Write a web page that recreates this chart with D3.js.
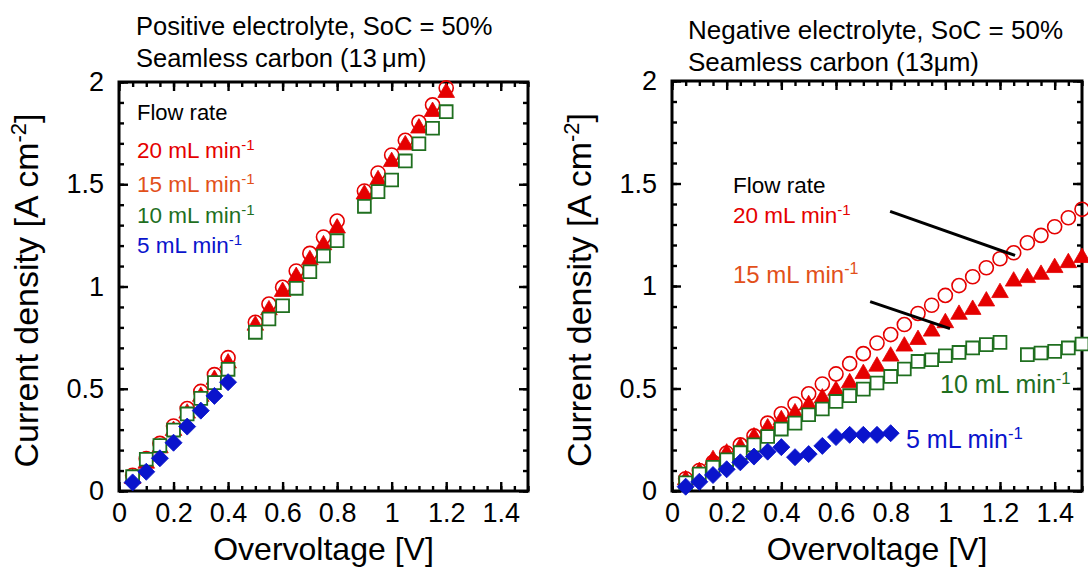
<!DOCTYPE html>
<html>
<head>
<meta charset="utf-8">
<script src="https://cdn.jsdelivr.net/npm/d3@7"></script>
<style>
  body { margin: 0; background: #fff; }
  text { font-family: "Liberation Sans", Arial, sans-serif; }
</style>
</head>
<body>
<script>
// ---------------------------------------------------------------------------
// Data
// ---------------------------------------------------------------------------
const xTicksMajor = [0, 0.2, 0.4, 0.6, 0.8, 1, 1.2, 1.4];
const yTicksMajor = [0, 0.5, 1, 1.5, 2];

// positive electrolyte (left panel)
const posX = [0.05, 0.1, 0.15, 0.2, 0.25, 0.3, 0.35, 0.4,
              0.5, 0.55, 0.6, 0.65, 0.7, 0.75, 0.8,
              0.9, 0.95, 1.0, 1.05, 1.1, 1.15, 1.2];
const pos20 = [0.077, 0.158, 0.233, 0.318, 0.403, 0.487, 0.569, 0.652,
               0.825, 0.914, 0.996, 1.076, 1.162, 1.242, 1.320,
               1.467, 1.555, 1.643, 1.715, 1.803, 1.888, 1.971];
const pos15 = [0.06, 0.135, 0.21, 0.295, 0.38, 0.462, 0.545, 0.625,
               0.81, 0.885, 0.975, 1.048, 1.13, 1.203, 1.285,
               1.451, 1.521, 1.610, 1.692, 1.774, 1.855, 1.948];
const pos10 = [0.07, 0.155, 0.222, 0.298, 0.377, 0.453, 0.53, 0.595,
               0.776, 0.841, 0.906, 0.991, 1.072, 1.149, 1.224,
               1.392, 1.464, 1.521, 1.614, 1.698, 1.774, 1.855];
const pos5X = [0.05, 0.1, 0.15, 0.2, 0.25, 0.3, 0.35, 0.4];
const pos5 = [0.042, 0.094, 0.16, 0.236, 0.315, 0.393, 0.465, 0.532];

// negative electrolyte (right panel)
const negX = [0.05, 0.1, 0.15, 0.2, 0.25, 0.3, 0.35, 0.4, 0.45, 0.5,
              0.55, 0.6, 0.65, 0.7, 0.75, 0.8, 0.85, 0.9, 0.95, 1.0,
              1.05, 1.1, 1.15, 1.2, 1.25, 1.3, 1.35, 1.4, 1.45, 1.5];
const neg20 = [0.06, 0.1, 0.14, 0.185, 0.225, 0.269, 0.331, 0.377, 0.424, 0.474,
               0.522, 0.571, 0.621, 0.67, 0.722, 0.763, 0.812, 0.866, 0.906, 0.954,
               1.002, 1.045, 1.089, 1.133, 1.162, 1.211, 1.247, 1.289, 1.333, 1.374];
const neg15 = [0.054, 0.094, 0.152, 0.184, 0.214, 0.263, 0.307, 0.347, 0.38, 0.42,
               0.453, 0.49, 0.527, 0.572, 0.608, 0.657, 0.706, 0.738, 0.779, 0.82,
               0.861, 0.885, 0.926, 0.967, 1.023, 1.04, 1.056, 1.089, 1.113, 1.138];
const neg10 = [0.04, 0.083, 0.116, 0.152, 0.187, 0.225, 0.266, 0.302, 0.331, 0.372,
               0.4, 0.437, 0.465, 0.497, 0.527, 0.559, 0.595, 0.632, 0.64, 0.66,
               0.676, 0.698, 0.714, 0.725, null, 0.665, 0.673, 0.681, 0.698, 0.717];
const neg5X = [0.05, 0.1, 0.15, 0.2, 0.25, 0.3, 0.35, 0.4,
               0.45, 0.5, 0.55, 0.6, 0.65, 0.7, 0.75, 0.8];
const neg5 = [0.021, 0.045, 0.078, 0.106, 0.14, 0.168, 0.192, 0.214,
              0.165, 0.18, 0.22, 0.263, 0.274, 0.274, 0.274, 0.282];

// colours
const cRed = "#e50000";
const cOrange = "#e2501a";
const cGreen = "#1f6f1f";
const cBlue = "#0a14cc";

// ---------------------------------------------------------------------------
// Canvas
// ---------------------------------------------------------------------------
const svg = d3.select("body").append("svg")
    .attr("width", 1088)
    .attr("height", 567);

const zip = (xs, ys) => xs.map((x, i) => ({ x: x, y: ys[i] })).filter(d => d.y !== null);

function drawPanel(cfg) {
    const x = d3.scaleLinear().domain([0, 1.5]).range([cfg.left, cfg.right]);
    const y = d3.scaleLinear().domain([0, 2]).range([cfg.bottom, cfg.top]);
    const g = svg.append("g");

    const xMinor = d3.range(0, 31).map(i => i / 20);
    const yMinor = d3.range(0, 21).map(i => i / 10);

    // minor ticks (all four sides, pointing inward)
    const minorAxes = [
        [d3.axisBottom(x).tickValues(xMinor), `translate(0,${cfg.bottom})`],
        [d3.axisTop(x).tickValues(xMinor), `translate(0,${cfg.top})`],
        [d3.axisLeft(y).tickValues(yMinor), `translate(${cfg.left},0)`],
        [d3.axisRight(y).tickValues(yMinor), `translate(${cfg.right},0)`]
    ];
    minorAxes.forEach(([ax, tr]) => {
        g.append("g").attr("transform", tr)
            .call(ax.tickSize(-5).tickFormat(""))
            .call(a => a.select(".domain").remove())
            .call(a => a.selectAll("line").attr("stroke", "#000").attr("stroke-width", 2.4));
    });

    // major ticks with labels
    g.append("g").attr("transform", `translate(0,${cfg.bottom})`)
        .call(d3.axisBottom(x).tickValues(xTicksMajor).tickSize(-9).tickPadding(12).tickFormat(d => d))
        .call(a => a.select(".domain").remove())
        .call(a => a.selectAll("line").attr("stroke", "#000").attr("stroke-width", 2.4))
        .call(a => a.selectAll("text").attr("fill", "#000").style("font-size", "27px")
            .style("font-family", "'Liberation Sans', Arial, sans-serif"));
    g.append("g").attr("transform", `translate(0,${cfg.top})`)
        .call(d3.axisTop(x).tickValues(xTicksMajor).tickSize(-9).tickFormat(""))
        .call(a => a.select(".domain").remove())
        .call(a => a.selectAll("line").attr("stroke", "#000").attr("stroke-width", 2.4));
    g.append("g").attr("transform", `translate(${cfg.left},0)`)
        .call(d3.axisLeft(y).tickValues(yTicksMajor).tickSize(-9).tickPadding(15).tickFormat(d => d))
        .call(a => a.select(".domain").remove())
        .call(a => a.selectAll("line").attr("stroke", "#000").attr("stroke-width", 2.4))
        .call(a => a.selectAll("text").attr("fill", "#000").style("font-size", "27px")
            .style("font-family", "'Liberation Sans', Arial, sans-serif"));
    g.append("g").attr("transform", `translate(${cfg.right},0)`)
        .call(d3.axisRight(y).tickValues(yTicksMajor).tickSize(-9).tickFormat(""))
        .call(a => a.select(".domain").remove())
        .call(a => a.selectAll("line").attr("stroke", "#000").attr("stroke-width", 2.4));

    // frame
    g.append("rect")
        .attr("x", cfg.left).attr("y", cfg.top)
        .attr("width", cfg.right - cfg.left).attr("height", cfg.bottom - cfg.top)
        .attr("fill", "none").attr("stroke", "#000").attr("stroke-width", 3);

    // axis titles
    g.append("text")
        .attr("x", (cfg.left + cfg.right) / 2).attr("y", 560)
        .attr("text-anchor", "middle").style("font-size", "32px")
        .text("Overvoltage [V]");

    const yt = g.append("text")
        .attr("transform", `translate(${cfg.left - 81},${(cfg.top + cfg.bottom) / 2 + 4}) rotate(-90)`)
        .attr("text-anchor", "middle").style("font-size", "34px");
    yt.append("tspan").text("Current density [A cm");
    yt.append("tspan").attr("dy", -12).style("font-size", "22px").text("-2");
    yt.append("tspan").attr("dy", 12).text("]");

    // header
    cfg.title.forEach((t, i) => {
        g.append("text").attr("x", cfg.titleX).attr("y", cfg.titleY[i])
            .style("font-size", cfg.titleSize).text(t);
    });

    // markers
    const sym = (type, size) => d3.symbol().type(type).size(size)();
    const plot = (pts) => g.append("g").selectAll("path").data(pts).join("path")
        .attr("transform", d => `translate(${x(d.x)},${y(d.y)})`);

    plot(cfg.s20).attr("d", sym(d3.symbolCircle, 155))
        .attr("fill", "none").attr("stroke", cRed).attr("stroke-width", 1.6);
    plot(cfg.s15).attr("d", sym(d3.symbolTriangle, 120))
        .attr("fill", cRed).attr("stroke", cRed).attr("stroke-width", 0.8);
    plot(cfg.s10).attr("d", sym(d3.symbolSquare, 165))
        .attr("fill", "#fff").attr("stroke", cGreen).attr("stroke-width", 1.8);
    plot(cfg.s5).attr("d", sym(d3.symbolSquare, 145))
        .attr("transform", d => `translate(${x(d.x)},${y(d.y)}) rotate(45)`)
        .attr("fill", cBlue).attr("stroke", cBlue).attr("stroke-width", 0.8);

    return { g, x, y };
}

function flowLabel(g, px, py, txt, color, size) {
    size = size || 22.5;
    const t = g.append("text").attr("x", px).attr("y", py)
        .attr("fill", color).style("font-size", size + "px");
    t.append("tspan").text(txt);
    t.append("tspan").attr("dy", -size * 0.36).style("font-size", (size * 0.67) + "px").text("-1");
    return t;
}

// ---------------------------------------------------------------------------
// Left panel: positive electrolyte
// ---------------------------------------------------------------------------
const left = drawPanel({
    left: 119, right: 528, top: 82, bottom: 491,
    title: ["Positive electrolyte, SoC = 50%", "Seamless carbon (13\u2009\u03bcm)"],
    titleX: 136, titleY: [35, 67], titleSize: "25.5px",
    s20: zip(posX, pos20), s15: zip(posX, pos15),
    s10: zip(posX, pos10), s5: zip(pos5X, pos5)
});

left.g.append("text").attr("x", 137).attr("y", 120)
    .style("font-size", "22px").text("Flow rate");
flowLabel(left.g, 137, 158, "20 mL min", cRed);
flowLabel(left.g, 137, 192, "15 mL min", cOrange);
flowLabel(left.g, 137, 223, "10 mL min", cGreen);
flowLabel(left.g, 137, 253, "5 mL min", cBlue);

// ---------------------------------------------------------------------------
// Right panel: negative electrolyte
// ---------------------------------------------------------------------------
const right = drawPanel({
    left: 672, right: 1082, top: 81, bottom: 491,
    title: ["Negative electrolyte, SoC = 50%", "Seamless carbon (13\u03bcm)"],
    titleX: 688, titleY: [39, 71], titleSize: "26px",
    s20: zip(negX, neg20), s15: zip(negX, neg15),
    s10: zip(negX, neg10), s5: zip(neg5X, neg5)
});

right.g.append("text").attr("x", 733).attr("y", 193)
    .style("font-size", "22.5px").text("Flow rate");
flowLabel(right.g, 733, 223, "20 mL min", cRed);
flowLabel(right.g, 733, 283, "15 mL min", cOrange, 24);
flowLabel(right.g, 940, 393, "10 mL min", cGreen, 25);
flowLabel(right.g, 906, 448, "5 mL min", cBlue, 25);

// leader lines (data coordinates)
const leaders = [
    [[0.798, 1.364], [1.255, 1.149]],
    [[0.725, 0.924], [1.017, 0.792]]
];
right.g.selectAll(".leader").data(leaders).join("line")
    .attr("class", "leader")
    .attr("x1", d => right.x(d[0][0])).attr("y1", d => right.y(d[0][1]))
    .attr("x2", d => right.x(d[1][0])).attr("y2", d => right.y(d[1][1]))
    .attr("stroke", "#000").attr("stroke-width", 3);
</script>
</body>
</html>
